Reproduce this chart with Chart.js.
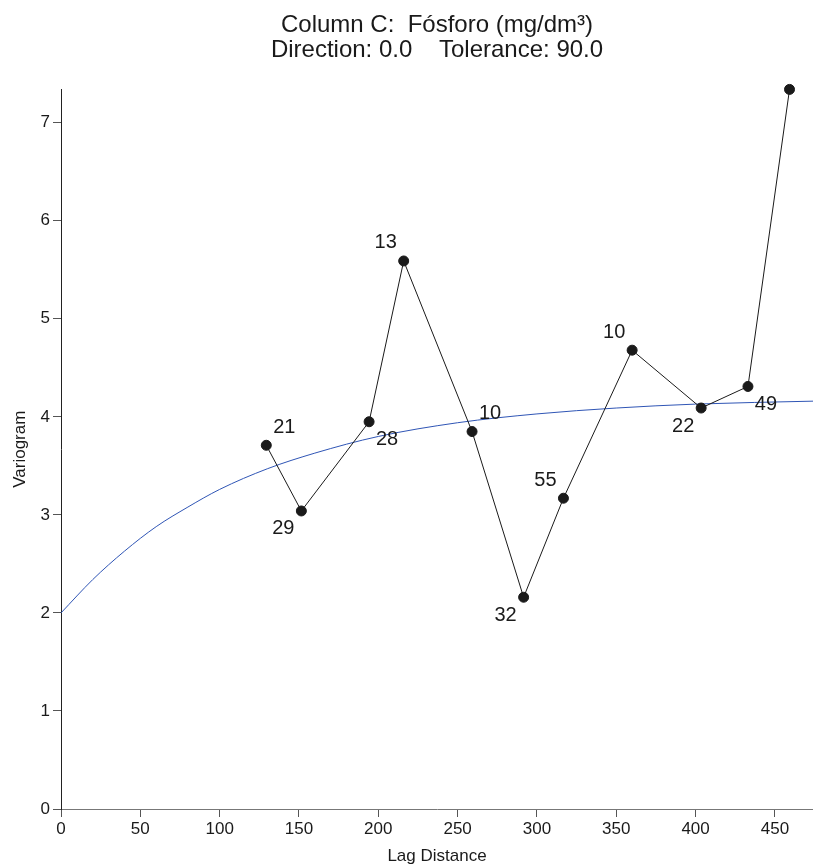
<!DOCTYPE html>
<html>
<head>
<meta charset="utf-8">
<title>Variogram</title>
<script src="https://cdn.jsdelivr.net/npm/chart.js@4/dist/chart.umd.min.js"></script>
<style>
    html, body { margin: 0; padding: 0; background: #fff; }
    #wrap { width: 813px; height: 865px; }
</style>
</head>
<body>
<div id="wrap"><canvas id="variogram-chart" width="813" height="865"></canvas></div>
<script>
const lagDistance = [129.4, 151.5, 194.2, 216.0, 259.1, 291.6, 316.7, 360.0, 403.5, 433.0, 459.2];
const variogramValues = [3.71, 3.04, 3.95, 5.59, 3.85, 2.16, 3.17, 4.68, 4.09, 4.31, 7.34];
const pairCounts = ['21', '29', '28', '13', '10', '32', '55', '10', '22', '49', ''];
// where each count sits around its point
const labelSide = ['ne', 'sw', 'se', 'nw', 'ne', 'sw', 'nw', 'nw', 'sw', 'se', ''];

// fitted model curve
const modelLag = [0, 20, 40, 60, 80, 100, 130, 160, 200, 250, 300, 350, 400, 474];
const modelValues = [2.00, 2.34, 2.63, 2.88, 3.08, 3.26, 3.47, 3.63, 3.80, 3.94, 4.03, 4.09, 4.13, 4.16];

const xTickValues = [0, 50, 100, 150, 200, 250, 300, 350, 400, 450];
const yTickValues = [0, 1, 2, 3, 4, 5, 6, 7];

const FONT = "'Liberation Sans', Arial, sans-serif";

const countLabels = {
    id: 'countLabels',
    afterDatasetsDraw(chart) {
        const ctx = chart.ctx;
        const xs = chart.scales.x;
        const ys = chart.scales.y;
        ctx.save();
        ctx.font = "20px " + FONT;
        ctx.fillStyle = '#1a1a1a';
        ctx.textAlign = 'center';
        ctx.textBaseline = 'middle';
        const off = 18;
        lagDistance.forEach((d, i) => {
            if (!pairCounts[i]) return;
            const px = xs.getPixelForValue(d);
            const py = ys.getPixelForValue(variogramValues[i]);
            const side = labelSide[i];
            const dx = side.includes('e') ? off : -off;
            const dy = side.includes('n') ? -off : off;
            ctx.fillText(pairCounts[i], px + dx, py + dy);
        });
        ctx.restore();
    }
};

function drawChart() {
    const ctx = document.getElementById('variogram-chart').getContext('2d');
    new Chart(ctx, {
        type: 'scatter',
        data: {
            datasets: [
                {
                    label: 'Model',
                    data: modelLag.map((x, i) => ({ x: x, y: modelValues[i] })),
                    showLine: true,
                    borderColor: '#2f55b5',
                    borderWidth: 1,
                    pointRadius: 0,
                    cubicInterpolationMode: 'monotone',
                    fill: false,
                    order: 2,
                },
                {
                    label: 'Variogram',
                    data: lagDistance.map((x, i) => ({ x: x, y: variogramValues[i] })),
                    showLine: true,
                    borderColor: '#1a1a1a',
                    borderWidth: 1,
                    pointRadius: 5,
                    pointBackgroundColor: '#1a1a1a',
                    pointBorderColor: '#1a1a1a',
                    fill: false,
                    clip: false,
                    order: 1,
                },
            ],
        },
        options: {
            responsive: false,
            animation: false,
            devicePixelRatio: 1,
            layout: { autoPadding: false, padding: { top: 0, left: 0, right: 0, bottom: 0 } },
            plugins: {
                legend: { display: false },
                tooltip: { enabled: false },
                title: {
                    display: true,
                    fullSize: false,
                    text: ['Column C:  Fósforo (mg/dm³)', 'Direction: 0.0    Tolerance: 90.0'],
                    color: '#1a1a1a',
                    font: { family: FONT, size: 24, weight: 'normal', lineHeight: 1.05 },
                    padding: { top: 13, bottom: 26 },
                },
            },
            scales: {
                x: {
                    type: 'linear',
                    min: 0,
                    max: 474,
                    afterBuildTicks: scale => { scale.ticks = xTickValues.map(v => ({ value: v })); },
                    afterFit: scale => { scale.height = 56; },
                    grid: { display: true, drawOnChartArea: false, drawTicks: true, tickLength: 8, color: '#555' },
                    border: { display: true, color: '#777', width: 1 },
                    ticks: { color: '#1a1a1a', font: { family: FONT, size: 17 }, padding: 2, maxRotation: 0 },
                    title: { display: true, text: 'Lag Distance', color: '#1a1a1a', font: { family: FONT, size: 17, lineHeight: 1.0 }, padding: 0 },
                },
                y: {
                    type: 'linear',
                    min: 0,
                    max: 7.34,
                    afterBuildTicks: scale => { scale.ticks = yTickValues.map(v => ({ value: v })); },
                    afterFit: scale => { scale.width = 61; },
                    grid: { display: true, drawOnChartArea: false, drawTicks: true, tickLength: 8, color: '#555' },
                    border: { display: true, color: '#222', width: 1 },
                    ticks: { color: '#1a1a1a', font: { family: FONT, size: 17 }, padding: 3 },
                    title: { display: true, text: 'Variogram', color: '#1a1a1a', font: { family: FONT, size: 17 }, padding: { top: 10, bottom: 0 } },
                },
            },
        },
        plugins: [countLabels],
    });
}

window.onload = () => {
    drawChart();
};
</script>
</body>
</html>
